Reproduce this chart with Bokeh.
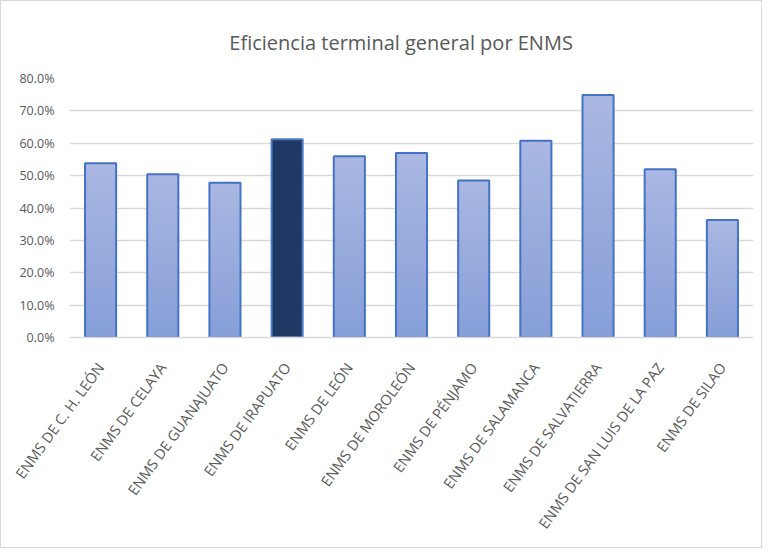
import numpy as np
from bokeh.plotting import figure
from bokeh.models import NumeralTickFormatter, FixedTicker, Title
from bokeh.embed import file_html
from bokeh.resources import INLINE

categories = ["ENMS DE C. H. LEÓN", "ENMS DE CELAYA", "ENMS DE GUANAJUATO", "ENMS DE IRAPUATO",
              "ENMS DE LEÓN", "ENMS DE MOROLEÓN", "ENMS DE PÉNJAMO", "ENMS DE SALAMANCA",
              "ENMS DE SALVATIERRA", "ENMS DE SAN LUIS DE LA PAZ", "ENMS DE SILAO"]
values = [0.538, 0.504, 0.478, 0.612, 0.560, 0.570, 0.485, 0.608, 0.749, 0.520, 0.363]
highlight = "ENMS DE IRAPUATO"
y_ticks = [0.0, 0.1, 0.2, 0.3, 0.4, 0.5, 0.6, 0.7, 0.8]
title_text = "Eficiencia  terminal  general  por  ENMS"

FONT = "Open Sans"
GRAY = "#595959"

p = figure(x_range=categories, y_range=(0, 0.8), width=762, height=548,
           output_backend="svg", toolbar_location=None,
           min_border_left=68, min_border_right=10, min_border_top=77, min_border_bottom=212)
p.styles = {"border": "1px solid #D9D9D9"}

title = Title(text=title_text, align="center",
              text_font=FONT, text_font_size="20px", text_color=GRAY,
              text_font_style="normal", offset=0, standoff=45)
p.add_layout(title, "above")

# gradient bars: overlapping slices of each value, lighter toward the top
N = 30
top_rgb = np.array([0xAA, 0xB8, 0xE2])
bot_rgb = np.array([0x87, 0x9F, 0xD9])
normal = [c for c in categories if c != highlight]
normal_vals = [v for c, v in zip(categories, values) if c != highlight]
for i in range(N):
    t = (i + 0.5) / N
    rgb = (bot_rgb * (1 - t) + top_rgb * t).astype(int)
    col = "#%02x%02x%02x" % tuple(rgb)
    bottoms = [v * i / N for v in normal_vals]
    p.vbar(x=normal, bottom=bottoms, top=normal_vals, width=0.5, fill_color=col, line_color=None)

p.vbar(x=normal, top=normal_vals, width=0.5, fill_color=None, line_color="#4472C4", line_width=2)
hv = [v for c, v in zip(categories, values) if c == highlight]
p.vbar(x=[highlight], top=hv, width=0.5, fill_color="#203864", line_color="#4F7AC8", line_width=2)

p.xgrid.grid_line_color = None
p.ygrid.grid_line_color = "#D9D9D9"
p.ygrid.grid_line_width = 1.5
p.yaxis.ticker = FixedTicker(ticks=y_ticks)
p.yaxis.formatter = NumeralTickFormatter(format="0.0%")
p.yaxis.axis_line_color = None
p.yaxis.major_tick_line_color = None
p.yaxis.minor_tick_line_color = None
p.yaxis.major_label_text_font = FONT
p.yaxis.major_label_text_font_size = "12.5px"
p.yaxis.major_label_text_color = GRAY
p.yaxis.major_label_standoff = 9

p.xaxis.axis_line_color = "#D9D9D9"
p.xaxis.axis_line_width = 1.5
p.xaxis.major_tick_line_color = None
p.xaxis.minor_tick_line_color = None
p.xaxis.major_label_orientation = 0.94
p.xaxis.major_label_text_font = FONT
p.xaxis.major_label_text_font_size = "14.5px"
p.xaxis.major_label_text_color = GRAY
p.xaxis.major_label_standoff = 21
p.outline_line_color = None
p.x_range.range_padding = 0.0

open("out.html", "w").write(file_html(p, INLINE))
